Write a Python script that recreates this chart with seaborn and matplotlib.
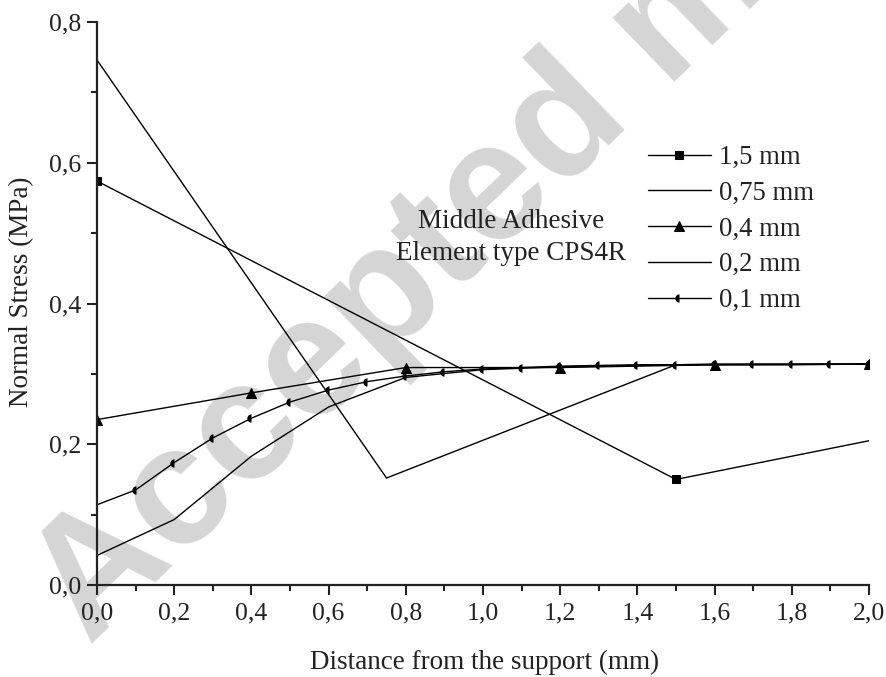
import numpy as np
import pandas as pd
import matplotlib
matplotlib.use("Agg")
import matplotlib.pyplot as plt
import seaborn as sns
from matplotlib.ticker import MultipleLocator, FuncFormatter

# ---- data ----
x_15 = [0.0, 1.5, 3.0]
y_15 = [0.574, 0.150, 0.315]

x_075 = [0.0, 0.75, 1.5, 2.25]
y_075 = [0.746, 0.152, 0.313, 0.314]

x_04 = [0.0, 0.4, 0.8, 1.2, 1.6, 2.0]
y_04 = [0.235, 0.273, 0.309, 0.309, 0.313, 0.314]

x_02 = [0.0, 0.2, 0.4, 0.6, 0.8, 1.0, 1.2, 1.4, 1.6, 1.8, 2.0]
y_02 = [0.042, 0.093, 0.183, 0.253, 0.295, 0.306, 0.310, 0.312, 0.313, 0.313, 0.314]

x_01 = [0.0, 0.1, 0.2, 0.3, 0.4, 0.5, 0.6, 0.7, 0.8, 0.9, 1.0,
        1.1, 1.2, 1.3, 1.4, 1.5, 1.6, 1.7, 1.8, 1.9, 2.0]
y_01 = [0.114, 0.135, 0.174, 0.209, 0.237, 0.260, 0.277, 0.289, 0.297, 0.303, 0.307,
        0.309, 0.311, 0.312, 0.313, 0.313, 0.314, 0.314, 0.314, 0.314, 0.314]

labels = ["1,5 mm", "0,75 mm", "0,4 mm", "0,2 mm", "0,1 mm"]
x_ticks = [0.0, 0.2, 0.4, 0.6, 0.8, 1.0, 1.2, 1.4, 1.6, 1.8, 2.0]
y_ticks = [0.0, 0.2, 0.4, 0.6, 0.8]

sns.set_theme(style="ticks")
plt.rcParams['font.family'] = ['Liberation Serif', 'DejaVu Serif']

fig = plt.figure(figsize=(8.87, 6.77), dpi=100)
ax = fig.add_axes([97/887, 1 - 585/677, (869-97)/887, (585-22)/677])

# watermark (behind the data)
ax.text(90/887, 30/677, "Accepted manuscript", fontsize=121, fontweight='bold',
        family='Liberation Sans', color='#d5d5d5', rotation=44,
        rotation_mode='anchor', ha='left', va='baseline', zorder=0,
        transform=fig.transFigure, clip_on=False)

styles = [
    dict(marker='s', markersize=6),
    dict(marker=None),
    dict(marker='^', markersize=7),
    dict(marker=None),
    dict(marker='o', markersize=6, fillstyle='left', markerfacecoloralt='none', markeredgewidth=0),
]
series = [(x_15, y_15), (x_075, y_075), (x_04, y_04), (x_02, y_02), (x_01, y_01)]

for (xs, ys), lab, st in zip(series, labels, styles):
    df = pd.DataFrame({"x": xs, "y": ys})
    kw = dict(color='black', linewidth=1.0, label=lab)
    if st.get('marker'):
        kw.update(marker=st['marker'], markersize=st['markersize'],
                  markeredgecolor='black', markerfacecolor='black')
        if 'fillstyle' in st:
            kw.update(fillstyle=st['fillstyle'], markerfacecoloralt=st['markerfacecoloralt'],
                      markeredgewidth=st['markeredgewidth'])
    sns.lineplot(data=df, x="x", y="y", ax=ax, sort=False, estimator=None, **kw)

ax.set_xlim(0, 2.0)
ax.set_ylim(0, 0.8)
ax.set_xticks(x_ticks)
ax.set_yticks(y_ticks)
ax.xaxis.set_minor_locator(MultipleLocator(0.1))
ax.yaxis.set_minor_locator(MultipleLocator(0.1))
fmt = FuncFormatter(lambda v, p: f"{v:.1f}".replace('.', ','))
ax.xaxis.set_major_formatter(fmt)
ax.yaxis.set_major_formatter(fmt)
ax.tick_params(which='major', direction='out', length=7.5, width=1.5, labelsize=18.5, colors='#222222')
ax.tick_params(which='minor', direction='out', length=4, width=1.5, colors='#222222')
ax.tick_params(axis='x', which='major', pad=5)
ax.tick_params(axis='y', which='major', pad=4)
for s in ['top', 'right']:
    ax.spines[s].set_visible(False)
for s in ['left', 'bottom']:
    ax.spines[s].set_linewidth(1.6)
    ax.spines[s].set_color('#222222')

ax.set_xlabel("Distance from the support (mm)", fontsize=19.5, color='#222222')
ax.set_ylabel("Normal Stress (MPa)", fontsize=19.5, color='#222222')
ax.xaxis.set_label_coords((485-97)/772, (585-650)/563)
ax.yaxis.set_label_coords((34-97)/772, (585-292)/563)

ax.text((511-97)/772, (585-237.5)/563, "Middle Adhesive\nElement type CPS4R", transform=ax.transAxes,
        ha='center', va='center', fontsize=19.5, linespacing=1.32, color='#222222')

leg = ax.legend(loc='upper left', bbox_to_anchor=(648/887, 1 - 145/677),
                bbox_transform=fig.transFigure, frameon=False, fontsize=19.3,
                handlelength=2.35, handletextpad=0.3, labelspacing=0.4,
                borderpad=0, borderaxespad=0)
for t in leg.get_texts():
    t.set_color('#222222')

fig.savefig("out.png", dpi=100)
